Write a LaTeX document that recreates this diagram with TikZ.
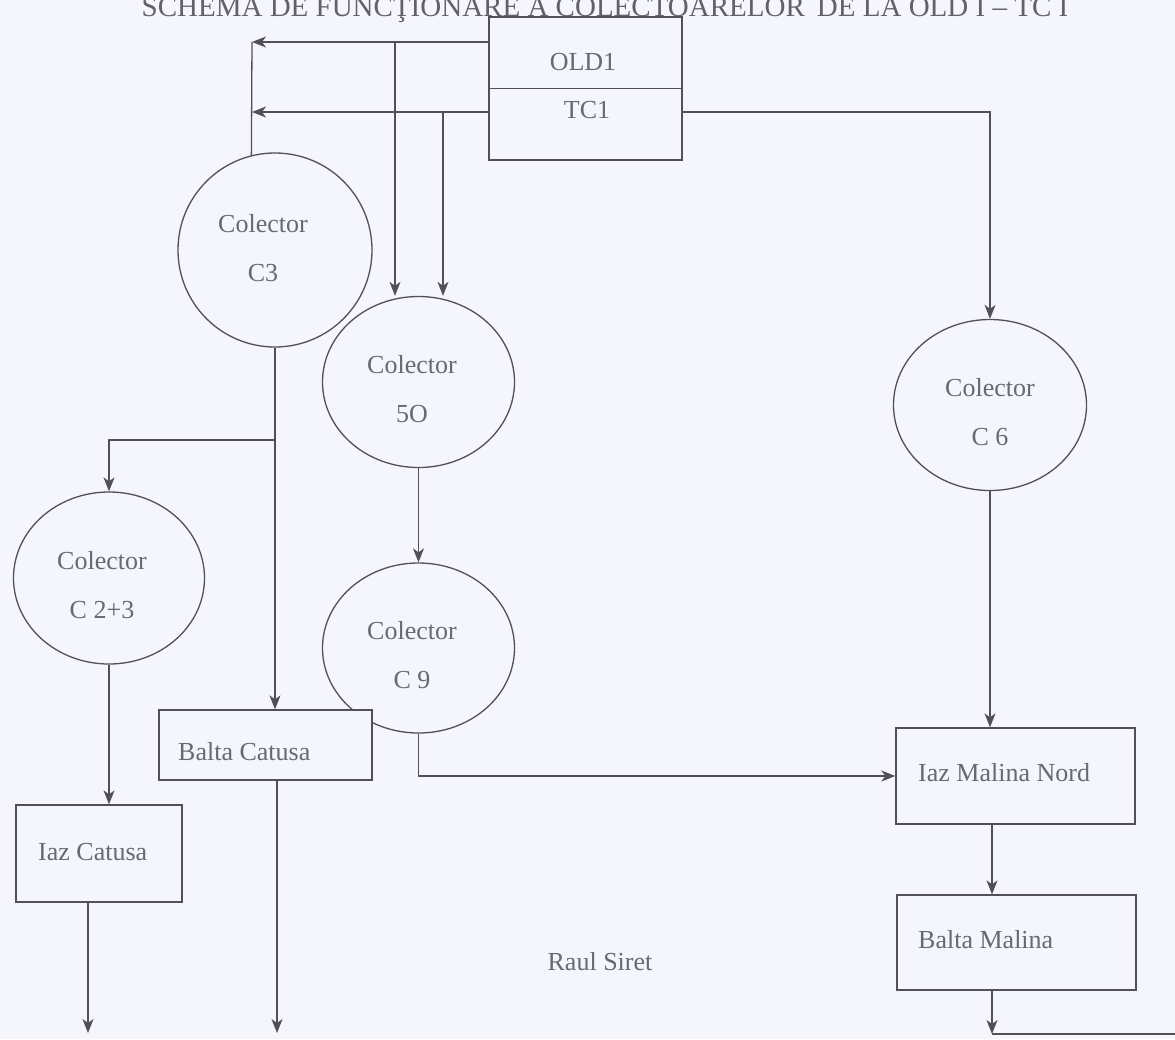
\documentclass[tikz,border=0pt]{standalone}
\usepackage{fontspec}
\setmainfont{Liberation Serif}
\usetikzlibrary{shapes.geometric,arrows.meta}

\definecolor{paper}{RGB}{244,246,251}
\definecolor{ink}{RGB}{80,80,86}
\definecolor{txt}{RGB}{105,105,112}

\tikzset{
  flow/.style={draw=ink, line width=1.3pt},
  arr/.style={flow, -{Stealth[length=14pt,width=11pt,inset=4pt]}},
  colector/.style={draw=ink, line width=1.3pt, ellipse, inner sep=0pt},
  bazin/.style={draw=ink, line width=1.3pt, fill=paper, rectangle, inner sep=0pt},
  eticheta/.style={text=txt, inner sep=0pt, font=\fontsize{26}{49}\selectfont, align=center},
  stanga/.style={eticheta, anchor=west},
}

\begin{document}
\begin{tikzpicture}[x=1pt, y=-1pt]
  % page area and background
  \useasboundingbox (0,0) rectangle (1175,1039);
  \fill[paper] (0,0) rectangle (1175,1039);

  % title
  \node[text=ink!90, inner sep=0pt, anchor=base, font=\fontsize{29}{29}\selectfont] (titlu) at (605,16)
    {SCHEMA DE FUNCŢIONARE A COLECTOARELOR\, DE LA OLD I – TC I};

  % source: OLD1 / TC1
  \node[bazin, minimum width=193pt, minimum height=143pt] (old) at (585.5,88.5) {};
  \draw[flow] (old.west) -- (old.east);
  \node[eticheta] (oldt) at (583,62) {OLD1};
  \node[eticheta] (tct) at (587,110) {TC1};

  % collectors
  \node[colector, minimum width=194pt, minimum height=194pt] (c3) at (275,250) {};
  \node[eticheta] (c3t) at (263,248) {Colector\\C3};

  \node[colector, minimum width=192pt, minimum height=171pt] (o5) at (418.5,382) {};
  \node[eticheta] (o5t) at (412,389) {Colector\\5O};

  \node[colector, minimum width=193pt, minimum height=171pt] (c6) at (990,405) {};
  \node[eticheta] (c6t) at (990,412) {Colector\\C 6};

  \node[colector, minimum width=191pt, minimum height=172pt] (c23) at (109,578) {};
  \node[eticheta] (c23t) at (102,585) {Colector\\C 2+3};

  \node[colector, minimum width=192pt, minimum height=170pt] (c9) at (418.5,648) {};
  \node[eticheta] (c9t) at (412,655) {Colector\\C 9};

  % ponds and settling basins
  \node[bazin, minimum width=213pt, minimum height=70pt] (bc) at (265.5,745) {};
  \node[stanga] (bct) at (178,752) {Balta Catusa};

  \node[bazin, minimum width=166pt, minimum height=97pt] (ic) at (99,853.5) {};
  \node[stanga] (ict) at (38,852) {Iaz Catusa};

  \node[bazin, minimum width=239pt, minimum height=96pt] (imn) at (1015.5,776) {};
  \node[stanga] (imnt) at (918,773) {Iaz Malina Nord};

  \node[bazin, minimum width=239pt, minimum height=95pt] (bm) at (1016.5,942.5) {};
  \node[stanga] (bmt) at (918,940) {Balta Malina};

  \node[eticheta] (siret) at (600,962) {Raul Siret};

  % junction points of the piping
  \coordinate (jA) at (252,42);
  \coordinate (jB) at (252,112);
  \coordinate (jC) at (395,42);
  \coordinate (jD) at (443,112);
  \coordinate (jE) at (990,112);
  \coordinate (jF) at (275,440);
  \coordinate (jG) at (992,1034);
  \coordinate (jH) at (1175,1034);
  \coordinate (eA) at (88,1033);
  \coordinate (eB) at (277,1033);

  % outlets from OLD1 / TC1
  \draw[arr] (old.west |- jA) -- (jA);
  \draw[arr] (old.west |- jB) -- (jB);
  \draw[flow] (jA) -- (c3.104);
  \draw[arr] (jC) -- (jC |- o5.north);
  \draw[arr] (jD) -- (jD |- o5.north);
  \draw[arr] (old.east |- jE) -- (jE) -- (c6.north);

  % collector C3 and its branch to C 2+3
  \draw[arr] (c3.south) -- (c3.south |- bc.north);
  \draw[arr] (jF) -- (c23.north |- jF) -- (c23.north);
  \draw[arr] (c23.south) -- (c23.south |- ic.north);

  % 5O -> C 9 -> Iaz Malina Nord
  \draw[arr] (o5.south) -- (c9.north);
  \draw[arr] (c9.south) -- (c9.south |- imn.west) -- (imn.west);

  % C 6 -> Iaz Malina Nord -> Balta Malina
  \draw[arr] (c6.south) -- (c6.south |- imn.north);
  \draw[arr] (imn.south -| jG) -- (bm.north -| jG);
  \draw[arr] (bm.south -| jG) -- (jG);
  \draw[flow] (jG) -- (jH);

  % discharges towards the Siret
  \draw[arr] (ic.south -| eA) -- (eA);
  \draw[arr] (bc.south -| eB) -- (eB);
\end{tikzpicture}
\end{document}
